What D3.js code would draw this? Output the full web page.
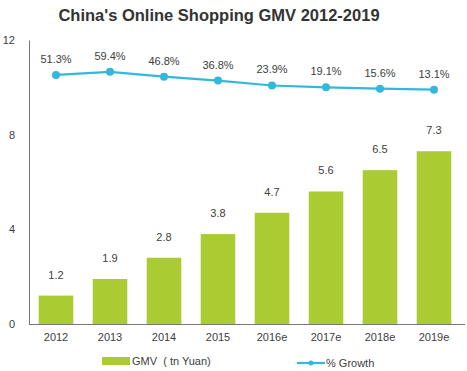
<!DOCTYPE html>
<html>
<head>
<meta charset="utf-8">
<script src="https://cdn.jsdelivr.net/npm/d3@7"></script>
<style>
  body { margin: 0; background: #fff; }
  svg { font-family: "Liberation Sans", Arial, sans-serif; }
</style>
</head>
<body>
<div id="chart"></div>
<script>
const years = ["2012", "2013", "2014", "2015", "2016e", "2017e", "2018e", "2019e"];
const gmv = [1.2, 1.9, 2.8, 3.8, 4.7, 5.6, 6.5, 7.3];
const growth = [51.3, 59.4, 46.8, 36.8, 23.9, 19.1, 15.6, 13.1];
const yTicks = [0, 4, 8, 12];

const width = 467, height = 371;
const margins = { top: 40, right: 5, bottom: 47, left: 29 };
const innerWidth = width - margins.left - margins.right;
const innerHeight = height - margins.top - margins.bottom;

const textColor = "#404040";
const barColor = "#abcb33";
const lineColor = "#33b8dd";

const svg = d3.select("#chart").append("svg")
  .attr("width", width)
  .attr("height", height);

svg.append("text")
  .attr("x", 219)
  .attr("y", 21)
  .attr("text-anchor", "middle")
  .attr("font-size", "16.5px")
  .attr("font-weight", "bold")
  .attr("fill", "#333")
  .text("China's Online Shopping GMV 2012-2019");

const mainG = svg.append("g")
  .attr("transform", `translate(${margins.left},${margins.top})`);

const xScale = d3.scaleBand()
  .domain(years)
  .range([0, 432])
  .paddingInner(0.36)
  .paddingOuter(0.18);

const yScale = d3.scaleLinear()
  .domain([0, 12])
  .range([innerHeight, 0]);

// hidden secondary axis for growth line
const gScale = d3.scaleLinear()
  .domain([0, 100])
  .range([94.7 - margins.top, 56.2 - margins.top]);

// y axis
const yAxisG = mainG.append("g")
  .call(d3.axisLeft(yScale).tickValues(yTicks).tickSize(0).tickPadding(14));
yAxisG.select(".domain").attr("stroke", "#777");
yAxisG.selectAll("text").attr("font-size", "11px").attr("fill", textColor)
  .attr("font-family", "Liberation Sans, Arial, sans-serif");

// x axis
const xAxisG = mainG.append("g")
  .attr("transform", `translate(0,${innerHeight})`)
  .call(d3.axisBottom(xScale).tickSize(0).tickPadding(9).tickSizeOuter(0));
xAxisG.select(".domain").attr("stroke", "#777").attr("d", `M0,0.5H436`);
xAxisG.selectAll("text").attr("font-size", "11px").attr("fill", textColor)
  .attr("font-family", "Liberation Sans, Arial, sans-serif");

// bars
mainG.append("g").selectAll("rect")
  .data(years)
  .join("rect")
  .attr("x", d => xScale(d))
  .attr("width", xScale.bandwidth())
  .attr("y", (d, i) => yScale(gmv[i]))
  .attr("height", (d, i) => innerHeight - yScale(gmv[i]))
  .attr("fill", barColor);

mainG.append("g").selectAll("text")
  .data(years)
  .join("text")
  .attr("x", d => xScale(d) + xScale.bandwidth() / 2)
  .attr("y", (d, i) => yScale(gmv[i]) - 17)
  .attr("text-anchor", "middle")
  .attr("font-size", "11px")
  .attr("fill", textColor)
  .text((d, i) => gmv[i].toFixed(1));

// growth line
const line = d3.line()
  .x((d, i) => xScale(years[i]) + xScale.bandwidth() / 2)
  .y(d => gScale(d));

mainG.append("path")
  .datum(growth)
  .attr("d", line)
  .attr("fill", "none")
  .attr("stroke", lineColor)
  .attr("stroke-width", 2.2);

mainG.append("g").selectAll("circle")
  .data(growth)
  .join("circle")
  .attr("cx", (d, i) => xScale(years[i]) + xScale.bandwidth() / 2)
  .attr("cy", d => gScale(d))
  .attr("r", 4)
  .attr("fill", lineColor);

mainG.append("g").selectAll("text")
  .data(growth)
  .join("text")
  .attr("x", (d, i) => xScale(years[i]) + xScale.bandwidth() / 2)
  .attr("y", d => gScale(d) - 12)
  .attr("text-anchor", "middle")
  .attr("font-size", "11px")
  .attr("fill", textColor)
  .text(d => d.toFixed(1) + "%");

// legend
const legend = svg.append("g");
legend.append("rect")
  .attr("x", 102).attr("y", 357)
  .attr("width", 28).attr("height", 8)
  .attr("fill", barColor);
legend.append("text")
  .attr("x", 132).attr("y", 365)
  .attr("font-size", "11px")
  .attr("fill", textColor)
  .attr("xml:space", "preserve")
  .text("GMV  ( tn Yuan)");

legend.append("line")
  .attr("x1", 297).attr("x2", 325)
  .attr("y1", 363).attr("y2", 363)
  .attr("stroke", lineColor)
  .attr("stroke-width", 2.2);
legend.append("circle")
  .attr("cx", 311).attr("cy", 363).attr("r", 2.5)
  .attr("fill", lineColor);
legend.append("text")
  .attr("x", 326).attr("y", 367)
  .attr("font-size", "11px")
  .attr("fill", textColor)
  .text("% Growth");
</script>
</body>
</html>
